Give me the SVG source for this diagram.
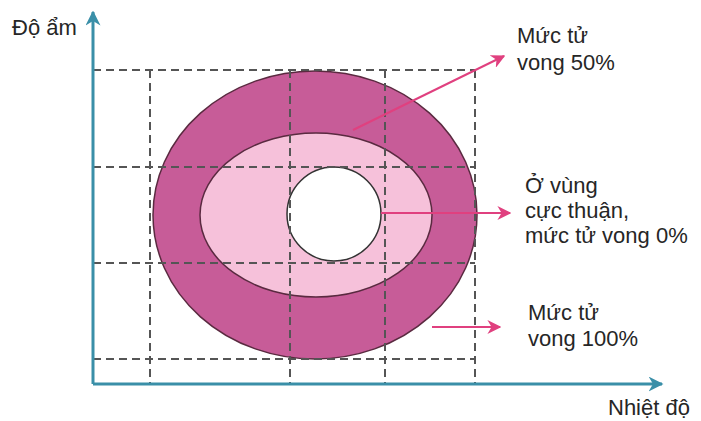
<svg xmlns="http://www.w3.org/2000/svg" width="701" height="421" viewBox="0 0 701 421">
<defs>
<style>
.t{font-family:"Liberation Sans",Arial,sans-serif;font-size:22px;fill:#262626}
.d{stroke:#555;stroke-width:2;stroke-dasharray:8,5;fill:none}
.ax{stroke:#3a8fa8;stroke-width:3;fill:none}
.pa{stroke:#e0407f;stroke-width:2;fill:none}
</style>
<marker id="ta" viewBox="0 0 10 10" refX="9" refY="5" markerWidth="5" markerHeight="5" orient="auto" markerUnits="strokeWidth"><path d="M0,0L10,5L0,10L3,5Z" fill="#3a8fa8"/></marker>
<marker id="pk" viewBox="0 0 10 10" refX="9" refY="5" markerWidth="7" markerHeight="7" orient="auto" markerUnits="strokeWidth"><path d="M0,0L10,5L0,10L3,5Z" fill="#e0407f"/></marker>
</defs>
<rect width="701" height="421" fill="#fff"/>
<g id="ellipses">
<ellipse id="outer" cx="315" cy="215" rx="162" ry="144" fill="#c75c98" stroke="#5a2a40" stroke-width="1.5"/>
<ellipse id="middle" cx="316" cy="215" rx="116" ry="82" fill="#f6c1da" stroke="#5a2a40" stroke-width="1.5"/>
<circle id="inner" cx="334" cy="214" r="47" fill="#fff" stroke="#333" stroke-width="1.5"/>
</g>
<g id="grid">
<path class="d" d="M93,70H475M93,167H475M93,263H475M93,359H475M150,70V384M290,70V384M385,70V384M475,70V384"/>
</g>
<g id="axes">
<path class="ax" d="M93,384V12" marker-end="url(#ta)"/>
<path class="ax" d="M93,384H662" marker-end="url(#ta)"/>
</g>
<g id="connectors">
<path class="pa" d="M353,130L504,56" marker-end="url(#pk)"/>
<path class="pa" d="M381,213H510" marker-end="url(#pk)"/>
<path class="pa" d="M432,327H500" marker-end="url(#pk)"/>
</g>
<g id="labels">
<text class="t" x="12" y="35">Độ ẩm</text>
<text class="t" x="517" y="43">Mức tử</text>
<text class="t" x="517" y="70">vong 50%</text>
<text class="t" x="525" y="193">Ở vùng</text>
<text class="t" x="525" y="218">cực thuận,</text>
<text class="t" x="525" y="243">mức tử vong 0%</text>
<text class="t" x="528" y="320">Mức tử</text>
<text class="t" x="528" y="346">vong 100%</text>
<text class="t" x="608" y="415">Nhiệt độ</text>
</g>
</svg>
